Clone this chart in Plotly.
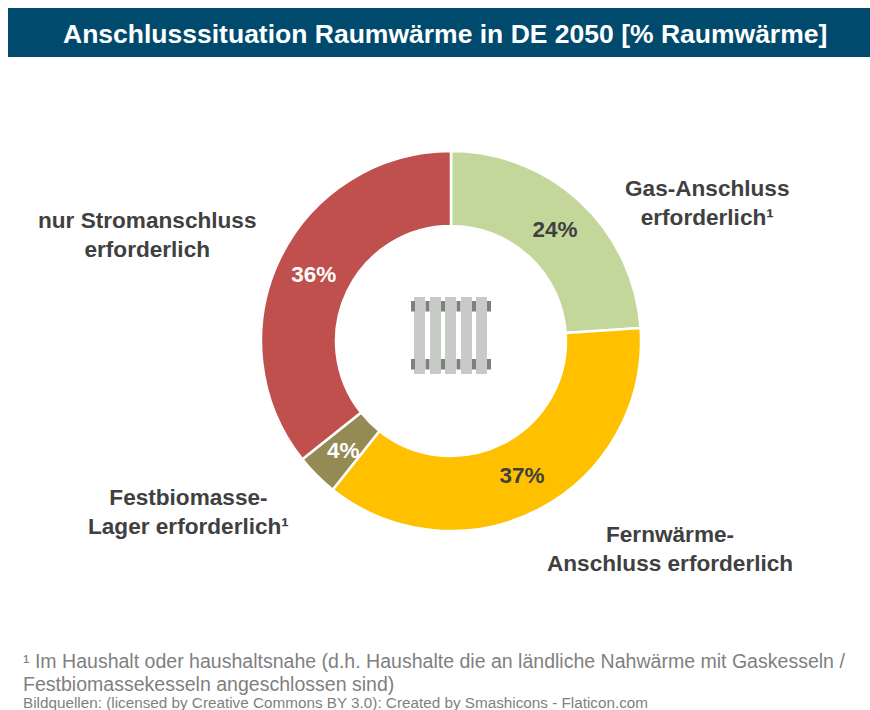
import plotly.graph_objects as go

categories = ["Gas-Anschluss", "Fernwärme-Anschluss", "Festbiomasse-Lager", "nur Stromanschluss"]
values = [23.9, 36.8, 3.6, 35.7]
colors = ["#C4D79B", "#FFC000", "#948A54", "#C0504D"]
text_colors = ["#404040", "#404040", "#FFFFFF", "#FFFFFF"]
slice_templates = ["<b>%{percent:.0%}</b>", "<b>%{percent:.0%}</b>", " ", "<b>%{percent:.0%}</b>"]
small_slice_label = "4%"
title_text = "Anschlusssituation Raumwärme in DE 2050 [% Raumwärme]"
FONT = "Liberation Sans, Arial, sans-serif"
W, H = 870, 710

def X(p): return p / W
def Y(p): return 1 - p / H

fig = go.Figure(go.Pie(
    labels=categories, values=values, sort=False, direction="clockwise", rotation=0,
    hole=0.605, marker=dict(colors=colors, line=dict(color="#FFFFFF", width=2.5)),
    texttemplate=slice_templates, textposition="inside",
    insidetextorientation="horizontal",
    textfont=dict(family=FONT, size=22.5, color=text_colors),
    hoverinfo="label+percent", showlegend=False,
    domain=dict(x=[X(261), X(641)], y=[Y(531), Y(151)]),
))

shapes = [dict(type="rect", xref="paper", yref="paper", x0=X(8), x1=X(870), y0=Y(57), y1=Y(8),
               fillcolor="#004A6E", line_width=0, layer="below")]
# radiator icon
for x0 in (414, 430, 445, 461, 476):
    shapes.append(dict(type="rect", xref="paper", yref="paper", x0=X(x0), x1=X(x0 + 11),
                       y0=Y(374), y1=Y(297), fillcolor="#C8CAC7", line_width=0))
for x0 in (411, 425.5, 441, 456.5, 472, 487):
    for y0 in (301, 359):
        shapes.append(dict(type="rect", xref="paper", yref="paper", x0=X(x0), x1=X(x0 + 4),
                           y0=Y(y0 + 10.5), y1=Y(y0), fillcolor="#7F7F7F", line_width=0))

def ann(text, x, y, size, color, anchor="center", bold=True, align="center"):
    return dict(text=f"<b>{text}</b>" if bold else text, xref="paper", yref="paper",
                x=X(x), y=Y(y), xanchor=anchor, yanchor="middle", showarrow=False, align=align,
                font=dict(family=FONT, size=size, color=color))

annotations = [
    ann(title_text, 445, 33.5, 26.5, "#FFFFFF"),
    ann("nur Stromanschluss<br>erforderlich", 146.5, 235, 22.6, "#404040"),
    ann("Gas-Anschluss<br>erforderlich¹", 707.5, 203, 22.6, "#404040"),
    ann("Festbiomasse-<br>Lager erforderlich¹", 188.5, 512, 22.6, "#404040"),
    ann("Fernwärme-<br>Anschluss erforderlich", 670, 549, 22.6, "#404040"),
    ann(small_slice_label, 343, 450, 22.5, "#FFFFFF"),
    ann("¹ Im Haushalt oder haushaltsnahe (d.h. Haushalte die an ländliche Nahwärme mit Gaskesseln /",
        21, 661, 19.55, "#7F7F7F", "left", False, "left"),
    ann("Festbiomassekesseln angeschlossen sind)", 20.5, 684, 19.55, "#7F7F7F", "left", False, "left"),
    ann("Bildquellen: (licensed by Creative Commons BY 3.0): Created by Smashicons - Flaticon.com",
        20.5, 702.5, 15.28, "#7F7F7F", "left", False, "left"),
]

fig.update_layout(width=W, height=H, margin=dict(l=0, r=0, t=0, b=0), autosize=False,
                  paper_bgcolor="#FFFFFF", plot_bgcolor="#FFFFFF", shapes=shapes, annotations=annotations)
fig.write_html("out.html", config=dict(displayModeBar=False),
               post_script="document.body.style.margin='0';document.documentElement.style.overflow='hidden';")
